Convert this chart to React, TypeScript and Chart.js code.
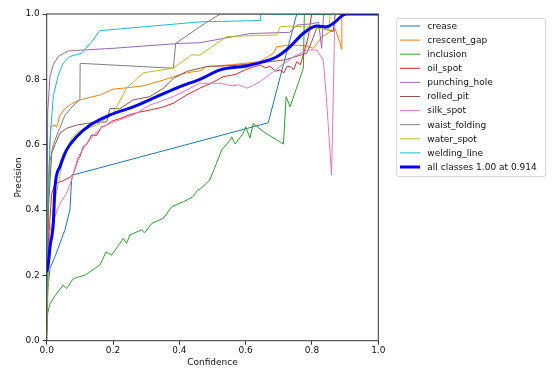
import React, { useEffect, useRef } from "react";
import { Chart, registerables } from "chart.js";
Chart.register(...registerables);

// ---- data ----
const classNames = [
  "crease", "crescent_gap", "inclusion", "oil_spot", "punching_hole",
  "rolled_pit", "silk_spot", "waist_folding", "water_spot", "welding_line",
];
const classColors = [
  "#1f77b4", "#ff7f0e", "#2ca02c", "#d62728", "#9467bd",
  "#8c564b", "#e377c2", "#7f7f7f", "#bcbd22", "#17becf",
];
const allLabel = "all classes 1.00 at 0.914";
const allColor = "#0000ff";
const axisTicks = [0, 0.2, 0.4, 0.6, 0.8, 1.0];

const creaseConf = [0, 0.003, 0.01, 0.025, 0.04, 0.055, 0.07, 0.075, 0.078, 0.668, 0.754, 1.0];
const creasePrec = [0.05, 0.15, 0.222, 0.257, 0.298, 0.339, 0.4, 0.49, 0.507, 0.667, 1.0, 1.0];

const crescentConf = [0, 0.006, 0.012, 0.025, 0.03, 0.04, 0.055, 0.075, 0.1, 0.13, 0.161, 0.2, 0.25, 0.291, 0.352, 0.382, 0.422, 0.462, 0.482, 0.56, 0.643, 0.684, 0.694, 0.734, 0.78, 0.804, 0.83, 0.87, 0.885, 0.889, 0.89, 1.0];
const crescentPrec = [0.05, 0.5, 0.655, 0.66, 0.653, 0.69, 0.71, 0.725, 0.737, 0.745, 0.752, 0.77, 0.775, 0.78, 0.798, 0.808, 0.82, 0.826, 0.839, 0.845, 0.854, 0.88, 0.9, 0.905, 0.903, 0.895, 0.93, 0.955, 0.91, 0.892, 1.0, 1.0];

const inclusionConf = [0, 0.003, 0.01, 0.03, 0.05, 0.06, 0.08, 0.116, 0.161, 0.179, 0.196, 0.231, 0.241, 0.251, 0.286, 0.295, 0.317, 0.352, 0.377, 0.412, 0.441, 0.455, 0.465, 0.492, 0.528, 0.553, 0.558, 0.568, 0.593, 0.6, 0.613, 0.623, 0.653, 0.714, 0.722, 0.734, 0.774, 0.777, 1.0];
const inclusionPrec = [0.0, 0.084, 0.114, 0.145, 0.17, 0.16, 0.19, 0.201, 0.232, 0.272, 0.262, 0.313, 0.298, 0.324, 0.339, 0.33, 0.359, 0.375, 0.41, 0.425, 0.441, 0.46, 0.466, 0.492, 0.584, 0.614, 0.624, 0.602, 0.635, 0.655, 0.62, 0.665, 0.64, 0.602, 0.747, 0.716, 0.834, 1.0, 1.0];

const oilConf = [0, 0.005, 0.015, 0.025, 0.05, 0.07, 0.08, 0.095, 0.1, 0.11, 0.12, 0.136, 0.15, 0.166, 0.181, 0.196, 0.221, 0.251, 0.281, 0.311, 0.35, 0.382, 0.422, 0.462, 0.5, 0.532, 0.57, 0.6, 0.643, 0.66, 0.673, 0.69, 0.704, 0.715, 0.725, 0.734, 0.745, 0.754, 0.765, 0.774, 0.789, 0.799, 1.0];
const oilPrec = [0.03, 0.3, 0.45, 0.48, 0.49, 0.5, 0.51, 0.555, 0.563, 0.594, 0.6, 0.63, 0.628, 0.655, 0.66, 0.672, 0.68, 0.692, 0.7, 0.706, 0.715, 0.727, 0.752, 0.773, 0.79, 0.808, 0.815, 0.83, 0.844, 0.835, 0.84, 0.825, 0.829, 0.82, 0.84, 0.839, 0.83, 0.854, 0.845, 0.875, 0.931, 1.0, 1.0];

const punchingConf = [0, 0.003, 0.01, 0.02, 0.035, 0.065, 0.2, 0.402, 0.462, 0.532, 0.613, 0.733, 0.754, 0.8, 0.82, 0.829, 0.835, 1.0];
const punchingPrec = [0.1, 0.7, 0.81, 0.845, 0.87, 0.887, 0.895, 0.91, 0.912, 0.925, 0.94, 0.944, 0.966, 0.97, 0.975, 0.895, 1.0, 1.0];

const rolledConf = [0, 0.005, 0.015, 0.025, 0.04, 0.06, 0.09, 0.12, 0.15, 0.181, 0.191, 0.22, 0.261, 0.311, 0.352, 0.382, 0.422, 0.482, 0.56, 0.643, 0.72, 0.784, 0.799, 0.814, 0.83, 0.864, 0.87, 1.0];
const rolledPrec = [0.05, 0.4, 0.574, 0.6, 0.635, 0.65, 0.66, 0.665, 0.668, 0.67, 0.711, 0.71, 0.737, 0.747, 0.773, 0.803, 0.824, 0.839, 0.842, 0.85, 0.86, 0.88, 0.915, 0.956, 0.96, 0.946, 1.0, 1.0];

const silkConf = [0, 0.005, 0.01, 0.025, 0.04, 0.06, 0.075, 0.095, 0.12, 0.161, 0.191, 0.261, 0.311, 0.382, 0.462, 0.523, 0.56, 0.58, 0.603, 0.62, 0.643, 0.704, 0.744, 0.784, 0.814, 0.834, 0.844, 0.859, 0.864, 0.869, 1.0];
const silkPrec = [0.03, 0.25, 0.339, 0.38, 0.42, 0.451, 0.492, 0.563, 0.604, 0.65, 0.665, 0.691, 0.721, 0.747, 0.788, 0.788, 0.78, 0.783, 0.773, 0.78, 0.793, 0.839, 0.869, 0.89, 0.89, 0.859, 0.737, 0.507, 0.737, 1.0, 1.0];

const waistConf = [0, 0.003, 0.01, 0.02, 0.035, 0.055, 0.08, 0.1, 0.101, 0.382, 0.389, 0.462, 0.523, 1.0];
const waistPrec = [0.05, 0.4, 0.55, 0.6, 0.64, 0.69, 0.72, 0.737, 0.849, 0.834, 0.91, 0.961, 1.0, 1.0];

const waterConf = [0, 0.005, 0.02, 0.035, 0.045, 0.06, 0.075, 0.095, 0.151, 0.2, 0.241, 0.291, 0.382, 0.437, 0.462, 0.543, 0.694, 0.704, 0.734, 0.8, 0.85, 0.855, 1.0];
const waterPrec = [0.02, 0.2, 0.4, 0.48, 0.533, 0.58, 0.62, 0.64, 0.66, 0.696, 0.773, 0.82, 0.834, 0.875, 0.874, 0.931, 0.936, 0.961, 0.963, 0.96, 0.95, 1.0, 1.0];

const weldingConf = [0, 0.003, 0.01, 0.02, 0.035, 0.05, 0.07, 0.105, 0.136, 0.16, 0.463, 0.644, 0.645, 1.0];
const weldingPrec = [0.05, 0.4, 0.614, 0.75, 0.813, 0.85, 0.87, 0.88, 0.915, 0.949, 0.976, 0.98, 1.0, 1.0];

const allConf = [0, 0.005, 0.01, 0.02, 0.025, 0.04, 0.06, 0.09, 0.131, 0.191, 0.261, 0.332, 0.402, 0.462, 0.523, 0.603, 0.643, 0.694, 0.734, 0.774, 0.814, 0.844, 0.864, 0.894, 0.905, 1.0];
const allPrec = [0.21, 0.237, 0.288, 0.36, 0.47, 0.533, 0.584, 0.624, 0.66, 0.691, 0.716, 0.747, 0.778, 0.8, 0.829, 0.841, 0.851, 0.869, 0.9, 0.941, 0.963, 0.961, 0.971, 0.997, 1.0, 1.0];

const classConf = [creaseConf, crescentConf, inclusionConf, oilConf, punchingConf, rolledConf, silkConf, waistConf, waterConf, weldingConf];
const classPrec = [creasePrec, crescentPrec, inclusionPrec, oilPrec, punchingPrec, rolledPrec, silkPrec, waistPrec, waterPrec, weldingPrec];

// ---- styling ----
const FONT = "'DejaVu Sans', sans-serif";
const TEXT = "#111111";
const SPINE = "#333333";
const W = 555;
const H = 369;
const PLOT_LEFT = 46.7;
const PLOT_RIGHT = 378.3;
const PLOT_TOP = 14;
const PLOT_BOTTOM = 340.7;

const toPoints = (c: number[], p: number[]) => c.map((x, i) => ({ x, y: p[i] }));

const framePlugin = {
  id: "frameAndLegend",
  afterDatasetsDraw(chart: any) {
    const { ctx, chartArea: a } = chart;
    ctx.save();
    ctx.strokeStyle = SPINE;
    ctx.lineWidth = 1;
    ctx.strokeRect(a.left, a.top, a.right - a.left, a.bottom - a.top);
    ctx.restore();
  },
  afterDraw(chart: any) {
    const { ctx } = chart;
    const ds = chart.data.datasets;
    const bx = 396.7, by = 18.3, bw = 149, bh = 158.4;
    ctx.save();
    ctx.beginPath();
    (ctx as any).roundRect(bx, by, bw, bh, 2.5);
    ctx.fillStyle = "rgba(255,255,255,0.8)";
    ctx.fill();
    ctx.strokeStyle = "#d4d4d4";
    ctx.lineWidth = 1;
    ctx.stroke();
    ctx.font = `9px ${FONT}`;
    ctx.textBaseline = "middle";
    ctx.textAlign = "left";
    ds.forEach((d: any, i: number) => {
      const cy = 26 + i * 14.1;
      ctx.beginPath();
      ctx.strokeStyle = d.borderColor;
      ctx.lineWidth = d.borderWidth;
      ctx.moveTo(400, cy);
      ctx.lineTo(420, cy);
      ctx.stroke();
      ctx.fillStyle = TEXT;
      ctx.fillText(d.label, 427.3, cy + 0.5);
    });
    ctx.restore();
  },
};

export default function App() {
  const ref = useRef<HTMLCanvasElement | null>(null);
  useEffect(() => {
    if (!ref.current) return;
    Chart.defaults.font.family = FONT;
    Chart.defaults.font.size = 9;
    Chart.defaults.color = TEXT;

    const datasets: any[] = classNames.map((name, i) => ({
      label: name,
      data: toPoints(classConf[i], classPrec[i]),
      borderColor: classColors[i],
      backgroundColor: classColors[i],
      borderWidth: 1,
      pointRadius: 0,
      tension: 0,
      borderJoinStyle: "round",
      clip: 0,
      order: classNames.length - i,
    }));
    datasets.push({
      label: allLabel,
      data: toPoints(allConf, allPrec),
      borderColor: allColor,
      backgroundColor: allColor,
      borderWidth: 3,
      pointRadius: 0,
      cubicInterpolationMode: "monotone",
      borderJoinStyle: "round",
      clip: 0,
      order: 0,
    });

    const tickSetter = (scale: any) => {
      scale.ticks = axisTicks.map((v) => ({ value: v }));
    };

    const chart = new Chart(ref.current, {
      type: "line",
      data: { datasets },
      options: {
        animation: false,
        responsive: false,
        devicePixelRatio: 1,
        layout: {
          padding: { left: 0, top: PLOT_TOP, right: W - PLOT_RIGHT, bottom: 0 },
        },
        plugins: {
          legend: { display: false },
          tooltip: { enabled: false },
        },
        scales: {
          x: {
            type: "linear",
            min: 0,
            max: 1,
            afterBuildTicks: tickSetter,
            afterFit: (s: any) => { s.height = H - PLOT_BOTTOM; },
            ticks: {
              callback: (v: any) => Number(v).toFixed(1),
              padding: 1,
              maxRotation: 0,
              color: TEXT,
            },
            grid: { display: true, drawOnChartArea: false, drawTicks: true, tickLength: 4, color: SPINE },
            border: { display: false },
            title: { display: true, text: "Confidence", color: TEXT, padding: { top: 0, bottom: 1 } },
          },
          y: {
            type: "linear",
            min: 0,
            max: 1,
            afterBuildTicks: tickSetter,
            afterFit: (s: any) => { s.width = PLOT_LEFT; },
            ticks: {
              callback: (v: any) => Number(v).toFixed(1),
              padding: 3,
              color: TEXT,
            },
            grid: { display: true, drawOnChartArea: false, drawTicks: true, tickLength: 4, color: SPINE },
            border: { display: false },
            title: { display: true, text: "Precision", color: TEXT, padding: { top: 13, bottom: 0 } },
          },
        },
      },
      plugins: [framePlugin],
    } as any);
    return () => chart.destroy();
  }, []);

  return (
    <div style={{ position: "absolute", left: 0, top: 0, width: W, height: H, background: "#fff" }}>
      <canvas ref={ref} width={W} height={H} style={{ display: "block" }} />
    </div>
  );
}
